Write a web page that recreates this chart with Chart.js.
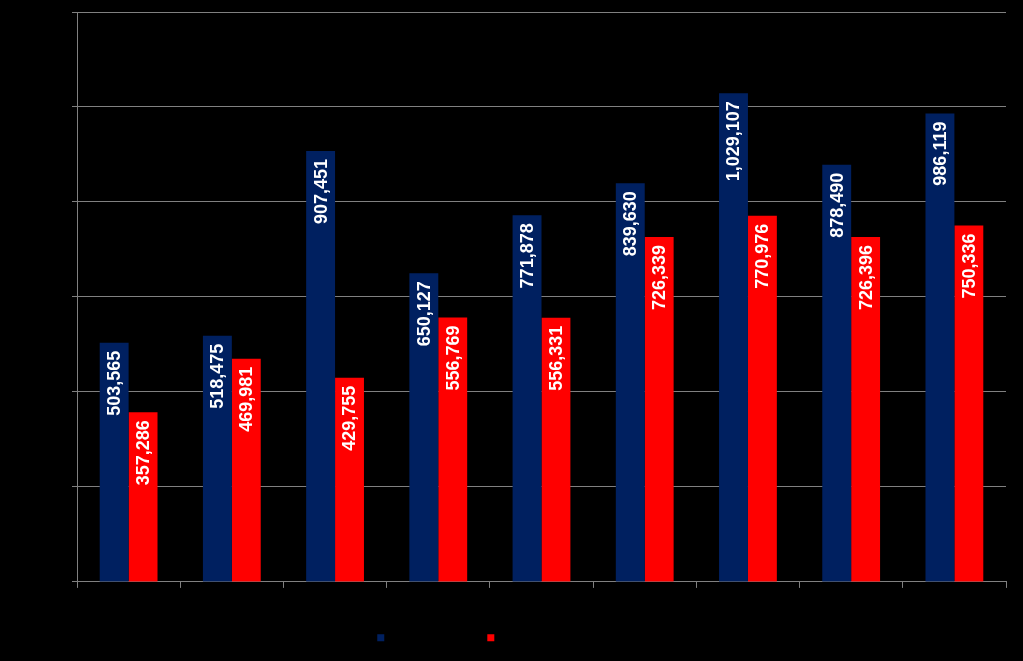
<!DOCTYPE html>
<html><head><meta charset="utf-8">
<script src="https://cdn.jsdelivr.net/npm/chart.js@4/dist/chart.umd.min.js"></script>
<style>html,body{margin:0;padding:0;background:#000;}#wrap{width:1023px;height:661px;}</style>
</head><body><div id="wrap"><canvas id="c" width="1023" height="661"></canvas></div>
<script>
const categories = ["1","2","3","4","5","6","7","8","9"];
const seriesNames = ["Series 1","Series 2"];
const series1 = [503565, 518475, 907451, 650127, 771878, 839630, 1029107, 878490, 986119];
const series2 = [357286, 469981, 429755, 556769, 556331, 726339, 770976, 726396, 750336];
const yTicks = {min: 0, max: 1200000, step: 200000};

const labelPlugin = {
  id: 'barLabels',
  afterDatasetsDraw(chart) {
    const ctx = chart.ctx;
    chart.data.datasets.forEach((ds, di) => {
      chart.getDatasetMeta(di).data.forEach((bar, i) => {
        const txt = ds.data[i].toLocaleString('en-US');
        ctx.save();
        ctx.translate(bar.x, bar.y + 8);
        ctx.rotate(-Math.PI / 2);
        ctx.font = 'bold 18px "Liberation Sans"';
        ctx.fillStyle = '#ffffff';
        ctx.textAlign = 'right';
        ctx.textBaseline = 'middle';
        ctx.fillText(txt, 0, 1);
        ctx.restore();
      });
    });
  }
};

const legendShift = {
  id: 'legendShift',
  afterLayout(chart) {
    if (chart.legend) { chart.legend.left -= 73; chart.legend.right -= 73; }
  }
};

new Chart(document.getElementById('c'), {
  type: 'bar',
  data: {
    labels: categories,
    datasets: [
      {label: seriesNames[0], data: series1, backgroundColor: '#002060'},
      {label: seriesNames[1], data: series2, backgroundColor: '#ff0000'}
    ]
  },
  options: {
    responsive: false,
    animation: false,
    layout: {padding: {left: 72, right: 17, top: 12, bottom: 6}},
    plugins: {
      legend: {
        position: 'bottom',
        labels: {boxWidth: 7, boxHeight: 7, color: '#000', font: {size: 14.5}, padding: 42.6}
      },
      tooltip: {enabled: false}
    },
    datasets: {bar: {categoryPercentage: 0.56, barPercentage: 1}},
    scales: {
      x: {
        grid: {display: true, drawOnChartArea: false, color: '#808080', tickLength: 6, offset: true},
        border: {color: '#808080'},
        ticks: {display: false}
      },
      y: {
        min: yTicks.min, max: yTicks.max,
        grid: {color: '#808080', tickLength: 5},
        border: {color: '#808080'},
        ticks: {display: false, stepSize: yTicks.step}
      }
    }
  },
  plugins: [labelPlugin, legendShift, {id:'bg', beforeDraw(c){c.ctx.save();c.ctx.fillStyle='#000';c.ctx.fillRect(0,0,c.width,c.height);c.ctx.restore();}}]
});
</script></body></html>
